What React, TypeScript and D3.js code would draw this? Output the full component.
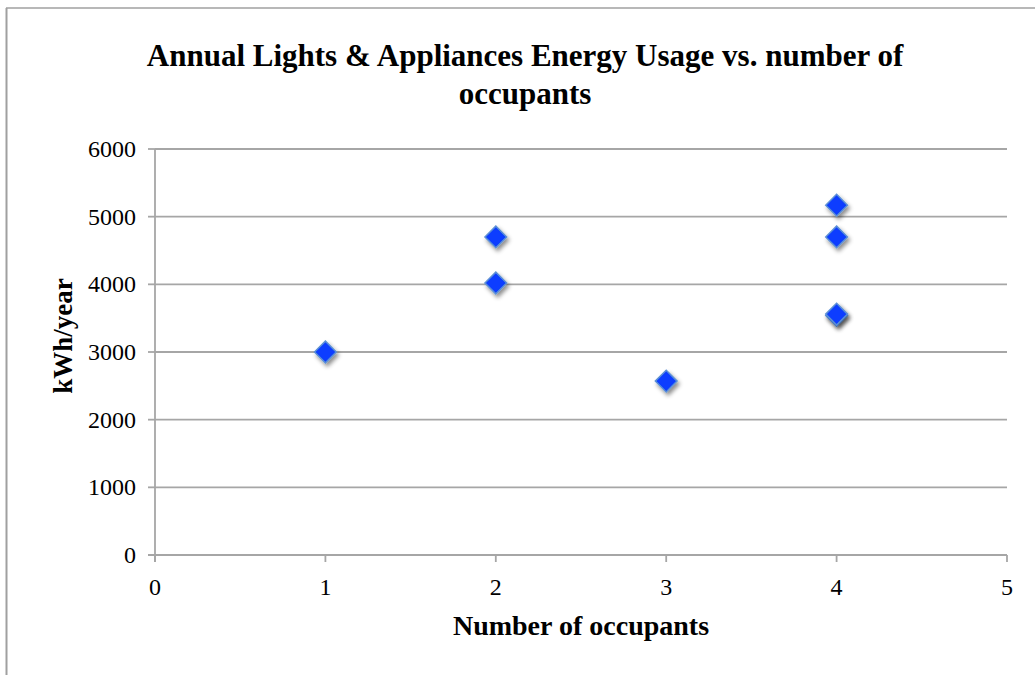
import React from "react";
import * as d3 from "d3";

const xTicks = [0, 1, 2, 3, 4, 5];
const yTicks = [0, 1000, 2000, 3000, 4000, 5000, 6000];
const occupants = [1, 2, 2, 3, 4, 4, 4, 4];
const usage = [3000, 4700, 4020, 2570, 5170, 4700, 3540, 3560];

const W = 1035;
const H = 675;
const left = 155, right = 1007, top = 149, bottom = 555;
const FONT = "'Liberation Serif', 'Times New Roman', serif";

export default function App() {
  const x = d3.scaleLinear().domain([0, 5]).range([left, right]);
  const y = d3.scaleLinear().domain([0, 6000]).range([bottom, top]);
  const diamond = d3.symbol().type(d3.symbolDiamond2 ?? d3.symbolDiamond).size(300)();
  const grid = "#a6a6a6";
  return (
    <svg width={W} height={H} style={{ position: "absolute", left: 0, top: 0 }}>
      <defs>
        <filter id="sh" x="-50%" y="-50%" width="200%" height="200%">
          <feDropShadow dx="2" dy="3" stdDeviation="2" floodColor="#000" floodOpacity="0.45" />
        </filter>
      </defs>
      <rect x={0} y={0} width={W} height={H} fill="#fff" />
      <line x1={6.5} y1={8} x2={6.5} y2={H} stroke="#a0a0a0" strokeWidth={2} />
      <line x1={6} y1={8} x2={W} y2={8} stroke="#a0a0a0" strokeWidth={1.5} />
      <text x={525} y={66} textAnchor="middle" fontFamily={FONT} fontWeight="bold" fontSize={31}>
        Annual Lights &amp; Appliances Energy Usage vs. number of
      </text>
      <text x={525} y={104} textAnchor="middle" fontFamily={FONT} fontWeight="bold" fontSize={31}>
        occupants
      </text>
      {yTicks.map((t) => (
        <g key={"y" + t}>
          {t > 0 && <line x1={left} x2={right} y1={y(t)} y2={y(t)} stroke={grid} strokeWidth={1.8} />}
          <line x1={left - 7} x2={left} y1={y(t)} y2={y(t)} stroke={grid} strokeWidth={1.8} />
          <text x={left - 19} y={y(t)} dy="0.33em" textAnchor="end" fontFamily={FONT} fontSize={24}>
            {t}
          </text>
        </g>
      ))}
      {xTicks.map((t) => (
        <g key={"x" + t}>
          <line x1={x(t)} x2={x(t)} y1={bottom} y2={bottom + 7} stroke={grid} strokeWidth={1.8} />
          <text x={x(t)} y={595} textAnchor="middle" fontFamily={FONT} fontSize={24}>
            {t}
          </text>
        </g>
      ))}
      <line x1={left} x2={left} y1={top} y2={bottom + 7} stroke={grid} strokeWidth={1.8} />
      <line x1={left - 7} x2={right} y1={bottom} y2={bottom} stroke={grid} strokeWidth={1.8} />
      <text x={581} y={635} textAnchor="middle" fontFamily={FONT} fontWeight="bold" fontSize={28}>
        Number of occupants
      </text>
      <text
        transform={`translate(72, 336) rotate(-90)`}
        textAnchor="middle"
        fontFamily={FONT}
        fontWeight="bold"
        fontSize={27}
      >
        kWh/year
      </text>
      {occupants.map((o, i) => (
        <path
          key={i}
          d={diamond}
          transform={`translate(${x(o)}, ${y(usage[i])})`}
          fill="#0a3cff"
          stroke="#5b8fd6"
          strokeWidth={1.5}
          filter="url(#sh)"
        />
      ))}
    </svg>
  );
}
